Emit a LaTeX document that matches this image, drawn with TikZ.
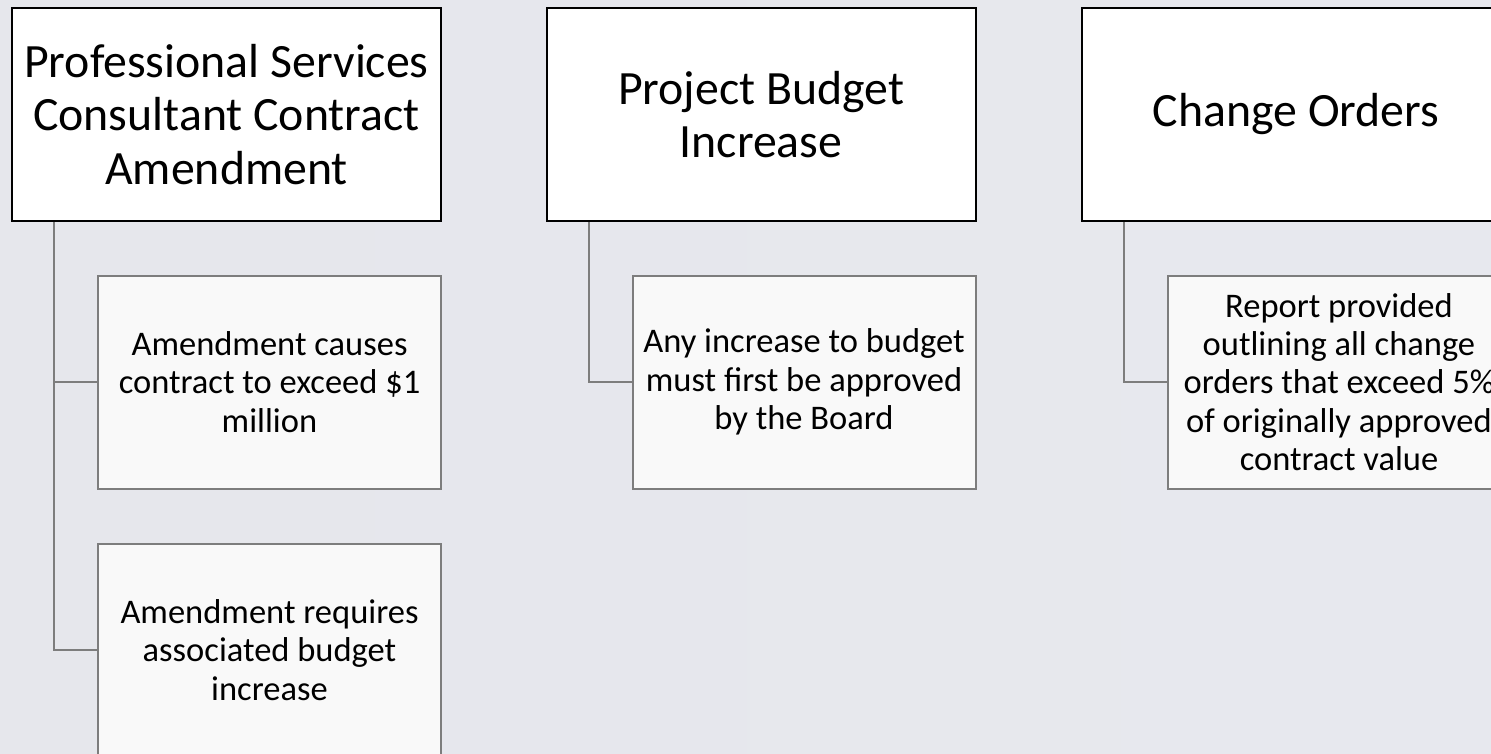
\documentclass[tikz,border=0pt]{standalone}
\usepackage{fontspec}
\setmainfont{Carlito}
\definecolor{bgleft}{RGB}{230,231,236}
\definecolor{bgmid}{RGB}{237,231,235}
\definecolor{bgright}{RGB}{231,232,238}
\definecolor{linkgray}{RGB}{125,125,125}
\definecolor{subfill}{RGB}{249,249,249}
\tikzset{
	topbox/.style={draw=black,line width=2pt,fill=white,minimum width=429pt,minimum height=213pt,inner sep=0pt,align=center,font=\fontsize{47.8}{53.5}\selectfont},
	subbox/.style={draw=linkgray,line width=2pt,fill=subfill,minimum width=343pt,minimum height=213pt,inner sep=0pt,align=center,font=\fontsize{34.5}{38.3}\selectfont},
	link/.style={draw=linkgray,line width=2pt}
}
\begin{document}
\begin{tikzpicture}[x=1pt,y=-1pt]
		% Fixes the page to the size of the slide and cuts off what runs past it
		\useasboundingbox (0,0) rectangle (1491,753);
		\clip (0,0) rectangle (1491,753);
		\shade [left color=bgleft,middle color=bgmid,right color=bgright] (0,0) rectangle (1491,753);
		% Three headings along the top
		\node [topbox] (consultant) at (226.5,114.5) {Professional Services\\Consultant Contract\\Amendment};
		\node [topbox] (budget) at (761,114.5) {Project Budget\\Increase};
		\node [topbox] (changes) at (1296,114.5) {Change Orders};
		% Boxes hanging under each heading
		\node [subbox] (exceed) at (269.5,382) {Amendment causes\\contract to exceed \$1\\million};
		\node [subbox] (requires) at (269.5,650) {Amendment requires\\associated budget\\increase};
		\node [subbox] (approval) at (804,382) {Any increase to budget\\must first be approved\\by the Board};
		\node [subbox] (report) at (1339,382) {Report provided\\outlining all change\\orders that exceed 5\%\\of originally approved\\contract value};
		% Elbow lines from each heading down to its boxes
		\draw [link] (consultant.south west) ++(43,0) |- (exceed.west);
		\draw [link] (consultant.south west) ++(43,0) |- (requires.west);
		\draw [link] (budget.south west) ++(43,0) |- (approval.west);
		\draw [link] (changes.south west) ++(43,0) |- (report.west);
\end{tikzpicture}
\end{document}
